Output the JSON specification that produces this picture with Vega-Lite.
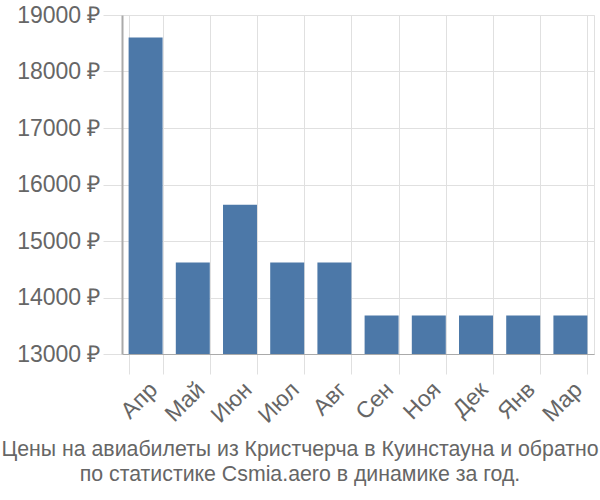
{
  "$schema": "https://vega.github.io/schema/vega-lite/v6.json",
  "width": 472,
  "height": 339,
  "autosize": {"type": "none"},
  "padding": {"left": 122, "top": 15, "right": 6, "bottom": 146},
  "background": "white",
  "config": {
    "font": "Liberation Sans",
    "view": {"stroke": "#e0e0e0", "strokeWidth": 1}
  },
  "title": {
    "text": ["Цены на авиабилеты из Кристчерча в Куинстауна и обратно", "по статистике Csmia.aero в динамике за год."],
    "orient": "bottom",
    "anchor": "middle",
    "fontSize": 21.3,
    "fontWeight": "normal",
    "color": "#666666",
    "lineHeight": 25,
    "offset": 12,
    "dx": -58
  },
  "data": {
    "values": [
      {"month": "Апр", "price": 18600},
      {"month": "Май", "price": 14620},
      {"month": "Июн", "price": 15640},
      {"month": "Июл", "price": 14620},
      {"month": "Авг", "price": 14620},
      {"month": "Сен", "price": 13680},
      {"month": "Ноя", "price": 13680},
      {"month": "Дек", "price": 13680},
      {"month": "Янв", "price": 13680},
      {"month": "Мар", "price": 13680}
    ]
  },
  "mark": {"type": "bar", "color": "#4c78a8", "clip": true},
  "encoding": {
    "x": {
      "field": "month",
      "type": "nominal",
      "sort": null,
      "scale": {"paddingInner": 0.28, "paddingOuter": 0.14},
      "axis": {
        "title": null,
        "labelAngle": -45,
        "labelFontSize": 23,
        "labelColor": "#666666",
        "labelPadding": 4,
        "tickBand": "extent",
        "tickSize": 20,
        "tickColor": "#e0e0e0",
        "grid": true,
        "gridColor": "#e0e0e0",
        "domainColor": "#aaaaaa",
        "domainWidth": 1
      }
    },
    "y": {
      "field": "price",
      "type": "quantitative",
      "scale": {"domain": [13000, 19000], "zero": false, "nice": false},
      "axis": {
        "title": null,
        "values": [13000, 14000, 15000, 16000, 17000, 18000, 19000],
        "labelExpr": "datum.value + ' ₽'",
        "labelFontSize": 23,
        "labelColor": "#666666",
        "labelPadding": 3,
        "tickSize": 19,
        "tickColor": "#e0e0e0",
        "gridColor": "#e0e0e0",
        "domainColor": "#aaaaaa",
        "domainWidth": 2
      }
    }
  }
}
